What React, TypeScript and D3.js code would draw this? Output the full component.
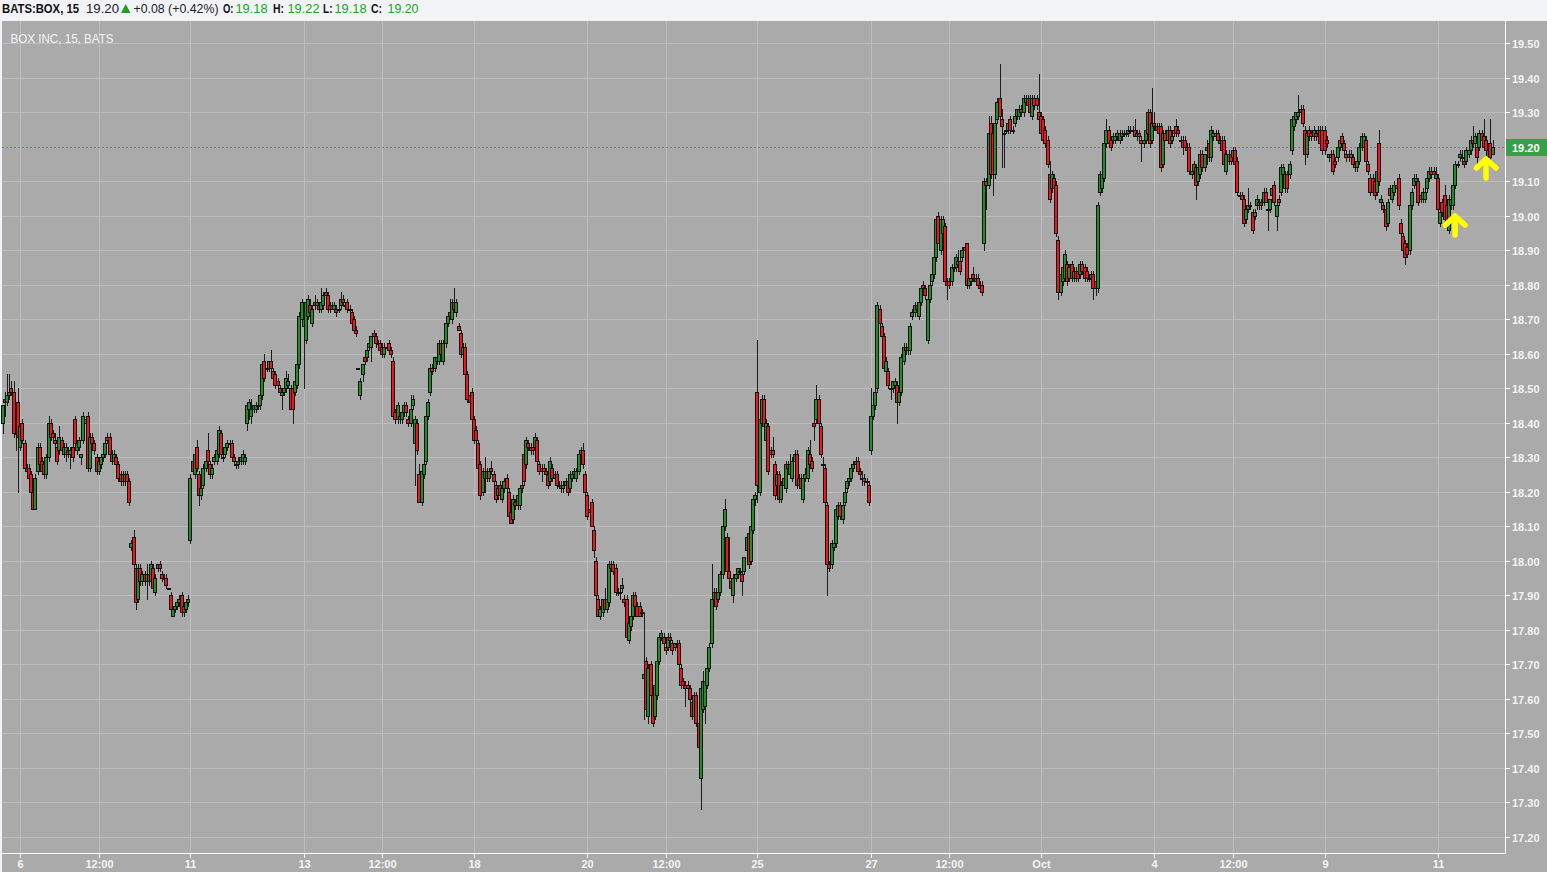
import React from "react";
import * as d3 from "d3";

// ---------- DATA (BATS:BOX, 15-minute bars, 5 Sep 2017 (last 8 bars) .. 11 Oct 2017) ----------
const firstBarIndex = -8; // first 8 bars belong to the session before "6"

const opens = [
  18.40,18.47,18.46,18.48,18.50,18.49,18.37,18.46,
  18.33,18.40,18.34,18.27,18.27,18.25,18.20,18.15,18.26,18.33,18.29,18.28,18.25,18.30,18.40,18.37,18.35,18.33,18.32,18.35,18.31,18.31,18.32,18.31,18.33,18.41,
  18.32,18.33,18.30,18.35,18.40,18.42,18.27,18.36,18.34,18.30,18.26,18.28,18.30,18.31,18.36,18.36,18.31,18.29,18.30,18.28,18.25,18.25,18.23,18.25,18.23,18.04,
  18.07,17.98,17.89,17.98,17.94,17.96,17.94,17.96,17.94,17.98,17.91,17.98,17.99,17.96,17.95,17.95,17.92,17.90,17.84,17.86,17.87,17.88,17.90,17.87,17.86,17.88,
  18.06,18.29,18.25,18.33,18.25,18.19,18.22,18.27,18.32,18.28,18.25,18.29,18.29,18.31,18.37,18.30,18.31,18.33,18.34,18.34,18.30,18.28,18.28,18.29,18.29,18.29,
  18.40,18.44,18.42,18.44,18.44,18.45,18.45,18.48,18.58,18.56,18.56,18.58,18.55,18.54,18.52,18.50,18.48,18.49,18.50,18.51,18.50,18.50,18.49,18.51,18.57,18.70,
  18.68,18.64,18.71,18.74,18.69,18.75,18.74,18.74,18.73,18.74,18.78,18.77,18.74,18.74,18.73,18.73,18.73,18.74,18.76,18.74,18.75,18.73,18.72,18.70,18.67,18.56,
  18.48,18.54,18.59,18.59,18.62,18.62,18.66,18.65,18.63,18.63,18.62,18.60,18.62,18.63,18.61,18.58,18.43,18.41,18.42,18.41,18.43,18.45,18.41,18.40,18.45,18.34,
  18.40,18.25,18.17,18.25,18.29,18.42,18.49,18.56,18.56,18.58,18.58,18.63,18.58,18.63,18.69,18.72,18.70,18.75,18.72,18.68,18.66,18.60,18.62,18.54,18.48,18.49,
  18.41,18.38,18.34,18.28,18.20,18.24,18.26,18.24,18.27,18.25,18.22,18.19,18.22,18.18,18.21,18.24,18.20,18.14,18.12,18.17,18.16,18.16,18.22,18.31,18.28,18.34,
  18.33,18.33,18.33,18.35,18.28,18.27,18.27,18.26,18.25,18.23,18.27,18.24,18.25,18.22,18.22,18.21,18.22,18.23,18.21,18.24,18.25,18.24,18.26,18.31,18.32,18.25,
  18.19,18.15,18.17,18.09,18.00,17.89,17.84,17.85,17.89,17.86,17.88,17.98,17.99,17.98,17.91,17.91,17.92,17.89,17.89,17.77,17.81,17.84,17.90,17.87,17.87,17.85,
  17.66,17.71,17.55,17.70,17.61,17.55,17.61,17.71,17.78,17.78,17.75,17.75,17.78,17.76,17.75,17.76,17.76,17.69,17.65,17.64,17.64,17.63,17.59,17.55,17.61,17.53,
  17.37,17.57,17.58,17.64,17.69,17.76,17.89,17.91,17.89,17.91,17.96,18.10,18.07,17.97,17.94,17.90,17.95,17.96,17.97,17.96,17.97,18.03,18.08,18.00,18.09,18.18,
  18.49,18.20,18.40,18.47,18.35,18.39,18.32,18.32,18.28,18.22,18.25,18.18,18.22,18.21,18.28,18.25,18.24,18.29,18.31,18.22,18.24,18.18,18.24,18.24,18.31,18.29,
  18.40,18.41,18.47,18.39,18.28,18.27,18.16,17.99,17.99,18.04,18.05,18.13,18.16,18.12,18.17,18.21,18.23,18.24,18.27,18.28,18.29,18.26,18.24,18.24,18.23,18.22,
  18.32,18.42,18.45,18.50,18.73,18.68,18.65,18.55,18.55,18.50,18.50,18.51,18.51,18.46,18.49,18.58,18.62,18.61,18.61,18.71,18.72,18.74,18.71,18.75,18.80,18.79,
  18.64,18.76,18.81,18.83,18.88,19.00,18.90,18.95,18.97,18.81,18.81,18.81,18.85,18.85,18.86,18.87,18.88,18.90,18.92,18.80,18.81,18.83,18.81,18.82,18.80,18.80,
  18.92,19.10,19.09,19.27,19.24,19.12,19.28,19.34,19.28,19.24,19.25,19.25,19.28,19.25,19.27,19.29,19.29,19.31,19.30,19.33,19.34,19.34,19.29,19.34,19.34,19.30,
  19.29,19.28,19.25,19.22,19.12,19.08,19.11,19.09,18.93,18.78,18.81,18.82,18.86,18.82,18.86,18.82,18.84,18.84,18.83,18.86,18.85,18.84,18.82,18.82,18.83,18.81,
  18.79,19.07,19.08,19.11,19.21,19.25,19.22,19.22,19.22,19.23,19.22,19.23,19.24,19.24,19.24,19.25,19.25,19.25,19.23,19.24,19.22,19.21,19.22,19.24,19.30,19.22,
  19.27,19.26,19.26,19.26,19.15,19.24,19.22,19.25,19.22,19.24,19.26,19.25,19.22,19.22,19.22,19.19,19.20,19.12,19.13,19.14,19.10,19.12,19.18,19.14,19.19,19.21,
  19.17,19.23,19.23,19.24,19.21,19.22,19.22,19.13,19.16,19.18,19.17,19.19,19.16,19.06,19.06,19.05,18.99,19.02,19.03,19.01,19.00,19.03,19.03,19.04,19.04,19.07,
  19.02,19.02,19.06,19.09,19.00,19.05,19.07,19.12,19.08,19.12,19.12,19.19,19.26,19.28,19.29,19.30,19.31,19.25,19.18,19.25,19.24,19.23,19.24,19.24,19.25,19.25,
  19.25,19.22,19.17,19.17,19.18,19.16,19.17,19.20,19.23,19.21,19.18,19.18,19.17,19.17,19.15,19.14,19.16,19.20,19.20,19.22,19.15,19.11,19.11,19.10,19.07,19.21,
  19.04,19.03,19.02,18.98,19.08,19.05,19.07,19.09,19.11,18.98,18.94,18.92,18.91,18.90,19.03,19.09,19.10,19.10,19.05,19.05,19.05,19.08,19.11,19.13,19.13,19.11,
  19.11,18.98,19.04,19.06,19.03,18.96,19.03,19.03,19.09,19.15,19.17,19.17,19.16,19.16,19.18,19.19,19.22,19.21,19.20,19.20,19.24,19.23,19.22,19.17,19.21,19.18,
];

const highs = [
  18.45,18.49,18.54,18.54,18.52,18.52,18.41,18.50,
  18.40,18.41,18.35,18.28,18.28,18.26,18.21,18.25,18.34,18.34,18.30,18.29,18.31,18.42,18.41,18.38,18.37,18.34,18.39,18.36,18.34,18.34,18.33,18.33,18.34,18.42,
  18.35,18.36,18.31,18.43,18.42,18.43,18.37,18.37,18.35,18.31,18.30,18.31,18.33,18.35,18.37,18.37,18.32,18.32,18.31,18.29,18.26,18.26,18.26,18.26,18.24,18.06,
  18.09,17.99,17.99,17.99,17.97,17.97,17.99,17.97,18.00,17.99,17.96,17.99,18.00,17.97,17.96,17.96,17.92,17.91,17.87,17.87,17.89,17.90,17.91,17.88,17.89,17.90,
  18.25,18.30,18.32,18.35,18.26,18.22,18.28,18.30,18.37,18.29,18.28,18.31,18.33,18.39,18.38,18.31,18.34,18.35,18.35,18.35,18.31,18.29,18.30,18.31,18.32,18.31,
  18.46,18.47,18.47,18.45,18.46,18.46,18.48,18.57,18.60,18.57,18.58,18.61,18.56,18.55,18.53,18.51,18.49,18.51,18.55,18.54,18.51,18.51,18.52,18.57,18.72,18.76,
  18.75,18.76,18.77,18.76,18.74,18.77,18.76,18.75,18.79,18.78,18.79,18.78,18.75,18.75,18.75,18.74,18.74,18.78,18.77,18.75,18.76,18.74,18.73,18.71,18.68,18.56,
  18.53,18.57,18.60,18.62,18.64,18.65,18.67,18.66,18.64,18.64,18.63,18.63,18.63,18.64,18.62,18.59,18.44,18.46,18.43,18.44,18.46,18.46,18.42,18.48,18.48,18.42,
  18.41,18.28,18.28,18.30,18.42,18.47,18.57,18.57,18.59,18.60,18.64,18.64,18.64,18.70,18.71,18.76,18.76,18.79,18.76,18.69,18.67,18.63,18.63,18.55,18.49,18.50,
  18.42,18.39,18.35,18.29,18.27,18.30,18.27,18.27,18.29,18.26,18.23,18.22,18.23,18.22,18.24,18.25,18.21,18.15,18.19,18.18,18.20,18.22,18.23,18.32,18.36,18.35,
  18.34,18.34,18.37,18.36,18.29,18.28,18.28,18.27,18.26,18.30,18.28,18.26,18.26,18.23,18.23,18.23,18.24,18.24,18.26,18.26,18.27,18.27,18.32,18.33,18.34,18.26,
  18.20,18.16,18.18,18.10,18.01,17.90,17.87,17.89,17.92,17.89,18.00,18.00,18.00,17.99,17.92,17.92,17.95,17.90,17.90,17.83,17.85,17.91,17.91,17.88,17.88,17.86,
  17.85,17.72,17.70,17.71,17.62,17.65,17.72,17.79,17.80,17.79,17.76,17.79,17.79,17.77,17.76,17.77,17.77,17.70,17.66,17.65,17.65,17.64,17.60,17.62,17.62,17.54,
  17.64,17.68,17.66,17.70,17.76,17.99,17.92,17.92,17.92,17.97,18.11,18.18,18.08,18.07,17.95,17.96,17.97,17.98,17.98,17.97,18.01,18.08,18.09,18.11,18.19,18.20,
  18.64,18.42,18.48,18.48,18.41,18.40,18.33,18.36,18.29,18.26,18.26,18.23,18.25,18.29,18.29,18.31,18.30,18.32,18.32,18.25,18.25,18.25,18.27,18.33,18.35,18.30,
  18.41,18.51,18.48,18.40,18.30,18.28,18.17,18.00,18.06,18.06,18.16,18.17,18.17,18.17,18.21,18.24,18.25,18.28,18.29,18.30,18.30,18.27,18.26,18.25,18.24,18.23,
  18.50,18.46,18.50,18.75,18.74,18.69,18.66,18.59,18.56,18.51,18.52,18.53,18.52,18.50,18.60,18.63,18.63,18.63,18.69,18.73,18.75,18.75,18.76,18.80,18.81,18.80,
  18.80,18.81,18.84,18.89,19.00,19.01,19.00,19.00,18.98,18.82,18.82,18.86,18.86,18.89,18.90,18.88,18.91,18.92,18.92,18.82,18.83,18.85,18.83,18.83,18.81,18.81,
  19.11,19.11,19.29,19.29,19.25,19.28,19.34,19.44,19.31,19.25,19.26,19.28,19.29,19.26,19.30,19.31,19.32,19.32,19.35,19.35,19.35,19.35,19.35,19.35,19.35,19.41,
  19.30,19.29,19.26,19.23,19.16,19.13,19.12,19.10,18.94,18.84,18.86,18.90,18.87,18.86,18.87,18.85,18.85,18.85,18.87,18.87,18.86,18.85,18.83,18.84,18.84,18.82,
  19.04,19.13,19.13,19.22,19.28,19.26,19.23,19.24,19.24,19.25,19.25,19.25,19.25,19.25,19.26,19.26,19.26,19.28,19.25,19.25,19.23,19.23,19.26,19.31,19.31,19.37,
  19.30,19.27,19.27,19.27,19.25,19.25,19.26,19.26,19.24,19.26,19.28,19.26,19.23,19.23,19.23,19.21,19.21,19.14,19.16,19.15,19.15,19.19,19.19,19.18,19.22,19.22,
  19.26,19.25,19.25,19.25,19.23,19.23,19.23,19.19,19.19,19.19,19.20,19.20,19.17,19.07,19.07,19.06,19.03,19.08,19.04,19.02,19.02,19.06,19.05,19.05,19.08,19.08,
  19.03,19.05,19.09,19.10,19.04,19.06,19.15,19.15,19.13,19.13,19.16,19.29,19.30,19.30,19.35,19.32,19.32,19.26,19.25,19.26,19.25,19.26,19.25,19.26,19.26,19.26,
  19.26,19.23,19.18,19.19,19.19,19.17,19.21,19.23,19.24,19.22,19.19,19.19,19.19,19.18,19.16,19.17,19.21,19.24,19.24,19.23,19.16,19.12,19.12,19.11,19.14,19.25,
  19.06,19.04,19.03,19.05,19.09,19.09,19.10,19.10,19.12,18.99,18.95,18.93,18.92,19.04,19.08,19.12,19.12,19.11,19.06,19.08,19.10,19.12,19.14,19.14,19.14,19.14,
  19.12,19.02,19.05,19.09,19.04,19.06,19.06,19.10,19.16,19.16,19.19,19.19,19.17,19.20,19.20,19.23,19.26,19.24,19.21,19.25,19.25,19.28,19.23,19.20,19.28,19.22,
];

const lows = [
  18.37,18.42,18.45,18.47,18.48,18.36,18.32,18.20,
  18.32,18.34,18.26,18.25,18.22,18.19,18.15,18.15,18.25,18.27,18.25,18.24,18.24,18.29,18.35,18.35,18.33,18.28,18.31,18.31,18.30,18.29,18.30,18.27,18.29,18.33,
  18.31,18.32,18.28,18.34,18.39,18.26,18.26,18.33,18.31,18.25,18.25,18.27,18.29,18.30,18.34,18.30,18.28,18.28,18.27,18.23,18.22,18.22,18.22,18.22,18.16,18.03,
  17.97,17.86,17.88,17.93,17.93,17.93,17.89,17.93,17.93,17.91,17.90,17.97,17.97,17.94,17.94,17.92,17.92,17.85,17.84,17.85,17.86,17.87,17.84,17.84,17.85,17.87,
  18.05,18.25,18.24,18.26,18.16,18.18,18.21,18.26,18.28,18.24,18.24,18.28,18.28,18.30,18.30,18.29,18.30,18.32,18.33,18.29,18.28,18.27,18.27,18.28,18.28,18.28,
  18.38,18.41,18.40,18.43,18.43,18.44,18.44,18.47,18.52,18.55,18.55,18.55,18.52,18.50,18.50,18.48,18.44,18.48,18.49,18.50,18.44,18.40,18.48,18.50,18.56,18.69,
  18.50,18.63,18.70,18.72,18.68,18.73,18.73,18.72,18.72,18.73,18.76,18.72,18.72,18.73,18.72,18.71,18.72,18.73,18.74,18.73,18.72,18.72,18.68,18.66,18.65,18.56,
  18.47,18.52,18.57,18.58,18.61,18.58,18.64,18.62,18.62,18.60,18.59,18.59,18.61,18.60,18.59,18.41,18.40,18.40,18.40,18.40,18.42,18.42,18.39,18.39,18.44,18.22,
  18.31,18.17,18.16,18.24,18.28,18.41,18.48,18.54,18.55,18.57,18.57,18.59,18.57,18.62,18.68,18.70,18.69,18.72,18.71,18.67,18.59,18.59,18.54,18.46,18.45,18.41,
  18.34,18.34,18.26,18.18,18.19,18.20,18.23,18.23,18.25,18.22,18.17,18.18,18.18,18.17,18.20,18.20,18.12,18.11,18.11,18.15,18.15,18.15,18.20,18.22,18.27,18.32,
  18.31,18.31,18.32,18.28,18.25,18.23,18.25,18.24,18.21,18.22,18.23,18.23,18.21,18.21,18.20,18.20,18.21,18.19,18.20,18.23,18.24,18.23,18.25,18.30,18.27,18.19,
  18.12,18.13,18.10,18.01,17.89,17.84,17.83,17.84,17.86,17.85,17.87,17.97,17.96,17.90,17.90,17.89,17.91,17.87,17.77,17.76,17.80,17.83,17.87,17.84,17.84,17.84,
  17.54,17.56,17.53,17.60,17.52,17.54,17.60,17.70,17.77,17.75,17.73,17.74,17.76,17.73,17.74,17.75,17.69,17.63,17.63,17.58,17.62,17.59,17.54,17.54,17.52,17.45,
  17.28,17.56,17.53,17.63,17.68,17.75,17.88,17.86,17.88,17.90,17.95,18.09,17.96,17.94,17.91,17.88,17.94,17.95,17.95,17.90,17.96,18.02,17.98,17.99,18.08,18.16,
  18.17,18.19,18.39,18.38,18.34,18.25,18.30,18.30,18.18,18.21,18.17,18.17,18.21,18.20,18.26,18.24,18.23,18.28,18.21,18.21,18.20,18.17,18.23,18.23,18.28,18.26,
  18.35,18.40,18.39,18.30,18.27,18.14,17.90,17.97,17.98,18.03,18.04,18.12,18.12,18.11,18.16,18.20,18.22,18.23,18.26,18.27,18.25,18.24,18.22,18.22,18.22,18.16,
  18.31,18.41,18.44,18.49,18.68,18.64,18.55,18.54,18.50,18.47,18.49,18.50,18.40,18.45,18.48,18.57,18.60,18.60,18.60,18.70,18.71,18.72,18.70,18.74,18.79,18.76,
  18.63,18.75,18.80,18.82,18.87,18.92,18.89,18.94,18.80,18.76,18.79,18.80,18.84,18.84,18.85,18.83,18.87,18.89,18.79,18.79,18.80,18.81,18.80,18.80,18.78,18.77,
  18.90,19.02,19.08,19.11,19.06,19.11,19.27,19.28,19.14,19.14,19.24,19.24,19.24,19.24,19.26,19.28,19.28,19.29,19.29,19.32,19.31,19.29,19.28,19.31,19.31,19.27,
  19.23,19.21,19.20,19.14,19.04,19.07,19.07,18.94,18.76,18.77,18.80,18.81,18.80,18.81,18.81,18.81,18.81,18.81,18.82,18.83,18.81,18.81,18.81,18.81,18.76,18.77,
  18.78,19.06,19.07,19.10,19.20,19.20,19.19,19.21,19.21,19.22,19.21,19.22,19.23,19.23,19.23,19.24,19.24,19.23,19.22,19.22,19.16,19.20,19.21,19.23,19.20,19.21,
  19.25,19.25,19.24,19.13,19.14,19.22,19.21,19.20,19.21,19.23,19.23,19.23,19.22,19.18,19.19,19.18,19.12,19.11,19.12,19.05,19.09,19.11,19.13,19.13,19.15,19.16,
  19.16,19.22,19.22,19.22,19.20,19.18,19.14,19.12,19.15,19.15,19.16,19.14,19.06,19.05,19.04,18.97,18.98,19.01,19.02,18.95,18.99,19.02,19.02,19.02,19.03,19.04,
  18.96,19.01,19.05,19.03,18.96,19.03,19.06,19.11,19.07,19.07,19.11,19.18,19.25,19.27,19.28,19.29,19.26,19.15,19.17,19.22,19.22,19.22,19.22,19.23,19.20,19.18,
  19.18,19.20,19.16,19.16,19.12,19.14,19.16,19.19,19.20,19.18,19.16,19.16,19.16,19.14,19.13,19.13,19.15,19.19,19.19,19.15,19.12,19.06,19.06,19.05,19.06,19.09,
  19.03,19.01,18.96,18.97,19.06,19.04,19.06,19.08,19.02,18.94,18.89,18.86,18.88,18.89,19.02,19.08,19.09,19.03,19.04,19.04,19.04,19.07,19.10,19.11,19.11,19.10,
  19.01,18.97,19.00,18.98,18.96,18.95,19.02,19.02,19.08,19.14,19.16,19.15,19.14,19.15,19.17,19.18,19.20,19.20,19.14,19.19,19.21,19.19,19.16,19.16,19.15,19.18,
];

const closes = [
  18.45,18.46,18.48,18.49,18.49,18.37,18.37,18.36,
  18.39,18.35,18.27,18.26,18.24,18.20,18.15,18.24,18.33,18.28,18.26,18.25,18.30,18.40,18.36,18.36,18.34,18.29,18.36,18.32,18.33,18.33,18.31,18.32,18.30,18.34,
  18.34,18.35,18.31,18.42,18.41,18.27,18.36,18.34,18.32,18.26,18.29,18.30,18.31,18.34,18.35,18.31,18.29,18.31,18.28,18.24,18.23,18.23,18.25,18.23,18.17,18.05,
  17.99,17.88,17.98,17.94,17.96,17.94,17.96,17.94,17.99,17.92,17.95,17.99,17.98,17.95,17.95,17.93,17.92,17.86,17.86,17.87,17.88,17.89,17.85,17.85,17.88,17.89,
  18.24,18.26,18.31,18.27,18.19,18.21,18.27,18.29,18.29,18.25,18.27,18.30,18.32,18.38,18.31,18.30,18.33,18.34,18.34,18.30,18.29,18.28,18.29,18.30,18.31,18.30,
  18.45,18.46,18.44,18.45,18.45,18.45,18.48,18.57,18.53,18.56,18.58,18.56,18.53,18.51,18.51,18.49,18.49,18.50,18.53,18.52,18.44,18.44,18.52,18.57,18.71,18.75,
  18.70,18.75,18.76,18.72,18.73,18.74,18.75,18.73,18.75,18.77,18.77,18.73,18.73,18.73,18.74,18.72,18.73,18.76,18.75,18.74,18.73,18.73,18.69,18.67,18.66,18.56,
  18.52,18.57,18.58,18.61,18.63,18.65,18.65,18.63,18.63,18.61,18.60,18.62,18.62,18.61,18.60,18.42,18.41,18.45,18.41,18.43,18.45,18.43,18.40,18.44,18.47,18.41,
  18.32,18.17,18.26,18.28,18.42,18.46,18.56,18.55,18.59,18.59,18.63,18.60,18.63,18.69,18.71,18.71,18.75,18.73,18.75,18.67,18.60,18.62,18.54,18.47,18.46,18.41,
  18.35,18.35,18.27,18.19,18.26,18.26,18.24,18.26,18.26,18.23,18.18,18.21,18.19,18.21,18.23,18.21,18.13,18.11,18.18,18.16,18.19,18.21,18.21,18.23,18.35,18.33,
  18.32,18.32,18.36,18.29,18.26,18.26,18.26,18.25,18.22,18.29,18.24,18.25,18.22,18.22,18.21,18.22,18.23,18.20,18.25,18.25,18.26,18.26,18.31,18.32,18.28,18.20,
  18.13,18.14,18.10,18.03,17.90,17.84,17.86,17.89,17.86,17.89,17.99,17.99,17.97,17.91,17.91,17.91,17.93,17.88,17.78,17.82,17.84,17.90,17.87,17.84,17.84,17.85,
  17.67,17.57,17.69,17.61,17.53,17.64,17.71,17.78,17.79,17.76,17.74,17.78,17.77,17.74,17.76,17.76,17.70,17.64,17.64,17.63,17.63,17.60,17.55,17.61,17.53,17.46,
  17.63,17.65,17.65,17.69,17.75,17.89,17.91,17.87,17.91,17.96,18.10,18.15,17.97,17.95,17.92,17.95,17.96,17.98,17.97,17.94,18.01,18.07,17.99,18.10,18.18,18.19,
  18.22,18.41,18.47,18.39,18.40,18.26,18.31,18.31,18.19,18.25,18.18,18.22,18.24,18.28,18.27,18.28,18.29,18.31,18.22,18.24,18.21,18.24,18.25,18.32,18.28,18.27,
  18.39,18.47,18.40,18.31,18.28,18.17,17.99,17.98,18.05,18.05,18.15,18.16,18.13,18.16,18.20,18.23,18.24,18.27,18.28,18.29,18.26,18.25,18.24,18.23,18.23,18.17,
  18.42,18.45,18.49,18.74,18.69,18.65,18.56,18.58,18.51,18.50,18.52,18.52,18.46,18.49,18.59,18.62,18.61,18.62,18.68,18.72,18.74,18.73,18.75,18.79,18.79,18.77,
  18.76,18.80,18.83,18.88,18.99,18.92,18.99,18.99,18.81,18.80,18.80,18.85,18.85,18.88,18.87,18.84,18.90,18.91,18.80,18.82,18.82,18.82,18.82,18.80,18.79,18.78,
  19.10,19.09,19.24,19.12,19.12,19.27,19.33,19.29,19.26,19.24,19.25,19.27,19.25,19.25,19.29,19.31,19.31,19.30,19.34,19.34,19.32,19.30,19.34,19.32,19.32,19.28,
  19.24,19.22,19.21,19.15,19.05,19.12,19.08,18.95,18.78,18.83,18.85,18.89,18.81,18.85,18.82,18.84,18.82,18.82,18.86,18.84,18.82,18.82,18.82,18.83,18.79,18.79,
  19.03,19.12,19.12,19.21,19.25,19.21,19.20,19.23,19.23,19.24,19.24,19.24,19.24,19.24,19.25,19.25,19.25,19.23,19.24,19.23,19.21,19.22,19.25,19.30,19.21,19.27,
  19.26,19.25,19.24,19.14,19.24,19.22,19.25,19.21,19.23,19.25,19.24,19.24,19.22,19.20,19.20,19.20,19.13,19.13,19.15,19.09,19.14,19.18,19.14,19.18,19.20,19.17,
  19.25,19.24,19.24,19.22,19.22,19.19,19.15,19.18,19.18,19.16,19.19,19.15,19.07,19.06,19.05,18.98,19.02,19.03,19.03,18.96,19.01,19.05,19.04,19.03,19.07,19.04,
  19.02,19.05,19.08,19.04,19.03,19.04,19.14,19.14,19.12,19.08,19.15,19.28,19.29,19.30,19.30,19.31,19.27,19.18,19.24,19.23,19.23,19.25,19.23,19.25,19.21,19.19,
  19.19,19.21,19.18,19.18,19.13,19.15,19.20,19.22,19.21,19.19,19.17,19.17,19.18,19.15,19.14,19.16,19.20,19.23,19.23,19.16,19.13,19.07,19.07,19.06,19.13,19.10,
  19.05,19.02,18.97,19.04,19.06,19.08,19.09,19.08,19.03,18.95,18.90,18.88,18.89,19.03,19.07,19.11,19.11,19.04,19.06,19.07,19.07,19.11,19.13,19.12,19.12,19.12,
  19.02,19.01,19.01,18.99,18.98,19.05,19.05,19.09,19.15,19.15,19.18,19.17,19.15,19.19,19.19,19.22,19.21,19.23,19.17,19.24,19.22,19.20,19.19,19.19,19.17,19.20,
];

// axis labels
const priceTicks = [17.2,17.3,17.4,17.5,17.6,17.7,17.8,17.9,18.0,18.1,18.2,18.3,18.4,18.5,18.6,18.7,18.8,18.9,19.0,19.1,19.2,19.3,19.4,19.5];
const timeLabels = ["6","12:00","11","13","12:00","18","20","12:00","25","27","12:00","Oct","4","12:00","9","11"];
const timeLabelBars = [0,36,78,130,166,208,260,296,338,390,426,468,520,556,598,650];

const lastPrice = 19.2;
const headerQuote = { symbol: "BATS:BOX, 15", last: "19.20", change: "+0.08 (+0.42%)", o: "19.18", h: "19.22", l: "19.18", c: "19.20" };
// yellow arrow drawings: tip position in price/bar coordinates
const arrowMarks = [
  { bar: 658, price: 19.0 },
  { bar: 672, price: 19.165 },
];

// ---------- LAYOUT ----------
const W = 1547, H = 872;
const plotLeft = 2, plotTop = 21, plotRight = 1505, plotBottom = 853;
const UP = "#1f8f26", DOWN = "#ee151c", WICK = "#1c1c1c", OUTLINE = "#121212";
const BG = "#aaaaaa", GRID = "#bdbdbd", AXIS_TEXT = "#f4f4f4";
const FONT = "'Liberation Sans', Arial, Helvetica, sans-serif";

export default function App() {
  const x = d3.scaleLinear().domain([0, 650]).range([20.2, 1438]);
  const y = d3.scaleLinear().domain([17.2, 19.5]).range([836.6, 43.3]);

  const candles = closes.map((c, k) => {
    const i = k + firstBarIndex;
    const o = opens[k], h = highs[k], l = lows[k];
    const px = Math.round(x(i));
    const cx = px + 0.5;
    const yh = Math.round(y(h)), yl = Math.round(y(l));
    const top = Math.round(y(Math.max(o, c)));
    const bot = Math.round(y(Math.min(o, c)));
    const bh = bot - top;
    const fill = c > o ? UP : c < o ? DOWN : OUTLINE;
    return (
      <g key={k}>
        <line x1={cx} x2={cx} y1={yh} y2={yl + 1} stroke={WICK} strokeWidth={1} />
        {bh >= 2 ? (
          <rect x={px - 1.5} y={top + 0.5} width={3} height={bh} fill={fill} stroke={OUTLINE} strokeWidth={1} />
        ) : (
          <rect x={px - 2} y={top} width={4} height={2} fill={OUTLINE} />
        )}
      </g>
    );
  });

  const lastY = Math.round(y(lastPrice)) + 0.5;

  return (
    <div style={{ position: "absolute", left: 0, top: 0, width: W, height: H, overflow: "hidden", background: "#f1f3f6" }}>
      <svg width={W} height={H} style={{ display: "block" }} fontFamily={FONT}>
        <rect x={0} y={0} width={W} height={H} fill="#f1f3f6" />
        <rect x={plotLeft} y={plotTop} width={W - plotLeft} height={H - plotTop} fill={BG} />

        {/* grid */}
        <g stroke={GRID} strokeWidth={1}>
          {priceTicks.filter((p) => p !== lastPrice).map((p) => {
            const yy = Math.round(y(p)) + 0.5;
            return <line key={"h" + p} x1={plotLeft} x2={plotRight} y1={yy} y2={yy} />;
          })}
          {timeLabelBars.map((b, j) => {
            const xx = Math.round(x(b)) + 0.5;
            return <line key={"v" + j} x1={xx} x2={xx} y1={plotTop} y2={plotBottom} />;
          })}
        </g>

        {/* last price dashed line */}
        <line x1={plotLeft} x2={plotRight} y1={lastY} y2={lastY} stroke="#1ec41e" strokeWidth={1} strokeDasharray="2 2" />

        {/* candles */}
        <g>{candles}</g>

        {/* yellow arrows */}
        {arrowMarks.map((a, j) => {
          const ax = Math.round(x(a.bar));
          const ay = Math.round(y(a.price));
          return (
            <g key={"a" + j} stroke="#ffff00" strokeWidth={5.5} strokeLinecap="round" strokeLinejoin="round" fill="none">
              <path d={`M${ax - 9.5},${ay + 9} L${ax},${ay} L${ax + 10},${ay + 9}`} />
              <path d={`M${ax},${ay + 1} L${ax},${ay + 19}`} />
            </g>
          );
        })}

        {/* axes */}
        <line x1={plotRight + 0.5} x2={plotRight + 0.5} y1={plotTop} y2={plotBottom + 1} stroke="#ffffff" strokeWidth={1} />
        <line x1={plotLeft} x2={plotRight + 1} y1={plotBottom + 0.5} y2={plotBottom + 0.5} stroke="#ffffff" strokeWidth={1} />
        {priceTicks.map((p) => {
          const yy = Math.round(y(p)) + 0.5;
          return (
            <g key={"pt" + p}>
              <line x1={plotRight + 1} x2={plotRight + 5} y1={yy} y2={yy} stroke="#ffffff" strokeWidth={1} />
              <text x={plotRight + 7} y={yy + 4} fontSize={11} fontWeight="bold" fill={AXIS_TEXT}>{p.toFixed(2)}</text>
            </g>
          );
        })}
        {timeLabelBars.map((b, j) => {
          const xx = Math.round(x(b)) + 0.5;
          return (
            <g key={"tt" + j}>
              <line x1={xx} x2={xx} y1={plotBottom + 1} y2={plotBottom + 5} stroke="#ffffff" strokeWidth={1} />
              <text x={xx} y={plotBottom + 15} fontSize={11} fontWeight="bold" fill={AXIS_TEXT} textAnchor="middle">{timeLabels[j]}</text>
            </g>
          );
        })}

        {/* last price label */}
        <rect x={plotRight + 1} y={lastY - 8.5} width={W - plotRight - 1} height={17} fill="#35a048" />
        <text x={plotRight + 7} y={lastY + 4} fontSize={11} fontWeight="bold" fill="#ffffff">{lastPrice.toFixed(2)}</text>

        {/* chart title */}
        <text x={10.5} y={43} fontSize={12.5} fill="#f4f4f4" textLength={103} lengthAdjust="spacingAndGlyphs">BOX INC, 15, BATS</text>

        {/* header */}
        <g fontSize={12}>
          <text x={2} y={13} fontWeight="bold" fontSize={12} fill="#111" textLength={77} lengthAdjust="spacingAndGlyphs">{headerQuote.symbol}</text>
          <text x={86} y={13} fill="#222" fontSize={12.5} textLength={33} lengthAdjust="spacingAndGlyphs">{headerQuote.last}</text>
          <polygon points="121,13 130.5,13 125.75,4" fill="#1e9e1e" />
          <text x={133.5} y={13} fill="#222" fontSize={12.5} textLength={85} lengthAdjust="spacingAndGlyphs">{headerQuote.change}</text>
          <text x={223} y={13} fontWeight="bold" fontSize={12.5} fill="#111" textLength={10.5} lengthAdjust="spacingAndGlyphs">O:</text>
          <text x={235.5} y={13} fill="#22a322" fontSize={12.5} textLength={32} lengthAdjust="spacingAndGlyphs">{headerQuote.o}</text>
          <text x={273} y={13} fontWeight="bold" fontSize={12.5} fill="#111" textLength={11} lengthAdjust="spacingAndGlyphs">H:</text>
          <text x={287.5} y={13} fill="#22a322" fontSize={12.5} textLength={32} lengthAdjust="spacingAndGlyphs">{headerQuote.h}</text>
          <text x={323} y={13} fontWeight="bold" fontSize={12.5} fill="#111" textLength={9.5} lengthAdjust="spacingAndGlyphs">L:</text>
          <text x={334.5} y={13} fill="#22a322" fontSize={12.5} textLength={32} lengthAdjust="spacingAndGlyphs">{headerQuote.l}</text>
          <text x={371} y={13} fontWeight="bold" fontSize={12.5} fill="#111" textLength={11} lengthAdjust="spacingAndGlyphs">C:</text>
          <text x={387.5} y={13} fill="#22a322" fontSize={12.5} textLength={31} lengthAdjust="spacingAndGlyphs">{headerQuote.c}</text>
        </g>
      </svg>
    </div>
  );
}
